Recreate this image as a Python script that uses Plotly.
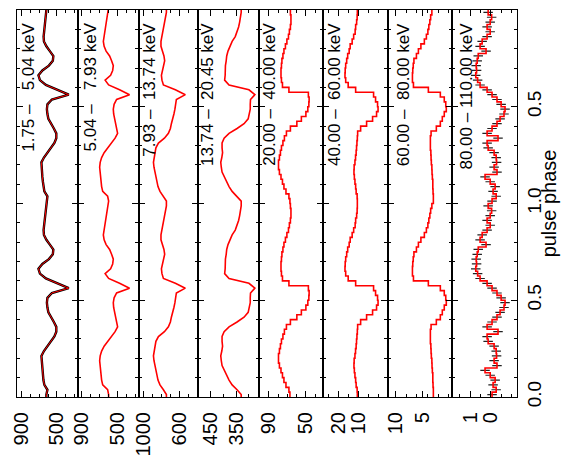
import plotly.graph_objects as go

# Energy bands of the pulse profiles (top panel first -> leftmost strip)
BANDS = [
    "1.75 –\u00a0\u00a0\u00a05.04 keV",
    "5.04 –\u00a0\u00a0\u00a07.93 keV",
    "7.93 –\u00a0\u00a013.74 keV",
    "13.74 –\u00a0\u00a020.45 keV",
    "20.00 –\u00a0\u00a040.00 keV",
    "40.00 –\u00a0\u00a060.00 keV",
    "60.00 –\u00a0\u00a080.00 keV",
    "80.00 – 110.00 keV",
]

# Count rate per phase bin (40 bins over one pulse cycle)
RATE_1 = [620, 608, 643, 654, 660, 666, 671, 677, 677, 648, 608, 568, 528, 506, 506, 534, 568, 597, 608, 614,
          608, 557, 363, 488, 626, 694, 711, 666, 591, 546, 540, 580, 620, 648, 652, 646, 640, 637, 631, 620]
RATE_2 = [600, 611, 666, 678, 683, 689, 694, 700, 694, 678, 650, 611, 567, 528, 500, 511, 528, 539, 544, 548,
          539, 511, 367, 478, 600, 639, 578, 555, 548, 567, 589, 628, 650, 659, 650, 641, 633, 622, 611, 605]
RATE_3 = [744, 777, 815, 837, 849, 865, 876, 881, 887, 876, 865, 860, 832, 766, 722, 700, 689, 672, 661, 650,
          645, 634, 535, 645, 777, 793, 799, 788, 771, 763, 771, 788, 804, 804, 793, 782, 771, 760, 749, 744]
RATE_4 = [330, 346, 365, 377, 386, 396, 404, 407, 409, 405, 402, 404, 404, 396, 377, 346, 319, 303, 298, 295,
          295, 294, 277, 300, 377, 394, 392, 392, 391, 388, 386, 381, 373, 365, 353, 346, 340, 336, 332, 330]
RATE_5 = [67.3, 68.4, 71.6, 73.8, 75.4, 77.0, 78.7, 79.7, 79.7, 78.7, 77.6, 76.5, 74.9, 73.3, 71.1, 66.8, 59.8, 54.9, 50.0, 47.9,
          46.8, 46.5, 47.3, 68.4, 75.4, 76.5, 77.0, 77.0, 76.5, 76.0, 74.9, 73.8, 72.2, 70.6, 68.9, 67.9, 66.8, 66.2, 66.2, 66.8]
RATE_6 = [10.4, 10.5, 11.0, 11.25, 11.6, 11.9, 12.1, 12.0, 11.6, 11.3, 11.0, 10.8, 10.6, 10.4, 10.25, 8.75, 5.75, 2.75, 0.75, 0.0,
          0.25, 1.25, 2.25, 11.25, 15.0, 16.25, 16.6, 16.5, 16.25, 15.75, 15.25, 14.5, 14.0, 13.0, 12.25, 11.5, 11.25, 10.75, 10.5, 10.4]
RATE_7 = [2.89, 2.89, 2.95, 2.99, 2.99, 3.08, 3.14, 3.17, 3.27, 3.32, 3.36, 3.45, 3.45, 3.45, 3.32, 2.33, 1.58, 1.21, 0.84, 0.46,
          0.56, 0.84, 1.58, 3.83, 6.63, 6.82, 6.82, 6.76, 6.67, 6.54, 6.07, 5.70, 5.23, 4.58, 4.20, 3.92, 3.74, 3.55, 3.40, 3.17]
RATE_8 = [-0.06, -0.26, -0.11, -0.21, 0.03, 0.28, -0.30, -0.16, -0.28, -0.26, -0.16, 0.13, 0.18, -0.35, 0.18, -0.06, -0.30, -0.45, -0.64, -0.69,
          -0.50, -0.30, -0.06, 0.18, 0.52, 0.64, 0.73, 0.69, 0.71, 0.66, 0.61, 0.23, 0.52, 0.42, 0.18, 0.03, 0.18, 0.03, -0.04, 0.13]
ERR_8 = 0.23  # 1-sigma uncertainty of the 80-110 keV rates

RATES = [RATE_1, RATE_2, RATE_3, RATE_4, RATE_5, RATE_6, RATE_7, RATE_8]

# Rate axis ranges (high rate on the left) and labelled ticks per strip
RATE_RANGES = [[957, 260], [944, 267], [1052, 392], [496, 261],
               [100.8, 31.7], [27.75, -4.75], [11.5, -0.66], [1.87, -1.27]]
RATE_TICKS = [[900, 500], [900, 500], [1000, 600], [450, 350],
              [90, 50], [20, 10], [10, 5], [1, 0]]
RATE_MINOR = [100, 100, 100, 50, 10, 5, 2, 0.5]
# the softer bands are finely binned and read as a continuous curve
SMOOTH = [True, True, True, True, False, False, False, False]

PHASE_TICKS = [0.0, 0.5, 1.0, 1.5, 2.0]
PHASE_LABELS = ["0.0", "0.5", "1.0", "0.5", "1.0"]

NBINS = len(RATE_1)
CYCLES = 2

W, H = 562, 466
ML, MR, MT, MB = 15, 45, 9, 64
PW = W - ML - MR
PH = H - MT - MB
STRIP_EDGES = [15, 76, 137, 197, 258, 322, 387, 452, 517]
LABEL_CENTERS = [26.5, 88.5, 148.5, 206.5, 268.5, 334, 402.5, 466]

FONT = "Liberation Sans, Arial, Helvetica, sans-serif"

# phase bin starts over two cycles, closed by the final edge
phase_start = [i / NBINS for i in range(NBINS * CYCLES)] + [float(CYCLES)]
phase_mid = [(i + 0.5) / NBINS for i in range(NBINS * CYCLES)]

fig = go.Figure()

for k, rate in enumerate(RATES):
    sfx = "" if k == 0 else str(k + 1)
    xa, ya = "x" + sfx, "y" + sfx
    vals = rate * CYCLES
    if SMOOTH[k]:
        # continuous curve through bin centres, padded to the plot edges
        px = [vals[0]] + vals + [vals[-1]]
        py = [0.0] + phase_mid + [float(CYCLES)]
        shape = "linear"
    else:
        px = vals + [vals[-1]]
        py = phase_start
        shape = "vh"
    if k == 0:
        fig.add_trace(go.Scatter(x=px, y=py, mode="lines", line_shape=shape,
                                 line=dict(color="black", width=2.4), xaxis=xa, yaxis=ya,
                                 showlegend=False, hoverinfo="skip"))
    if k == 7:
        fig.add_trace(go.Scatter(x=vals, y=phase_mid, mode="markers",
                                 marker=dict(size=1, color="rgba(0,0,0,0)"),
                                 error_x=dict(type="constant", value=ERR_8, color="#222222",
                                              thickness=1.2, width=0),
                                 xaxis=xa, yaxis=ya, showlegend=False, hoverinfo="skip"))
    fig.add_trace(go.Scatter(x=px, y=py, mode="lines", line_shape=shape,
                             line=dict(color="#ff0000", width=1.0 if k == 0 else 1.6),
                             xaxis=xa, yaxis=ya, showlegend=False))

    d0 = (STRIP_EDGES[k] - ML) / PW
    d1 = (STRIP_EDGES[k + 1] - ML) / PW
    fig.layout["xaxis" + sfx] = dict(
        domain=[d0, d1], range=RATE_RANGES[k], anchor=ya,
        tickmode="array", tickvals=RATE_TICKS[k], ticktext=[str(v) for v in RATE_TICKS[k]],
        ticks="inside", ticklen=6, tickwidth=1, tickcolor="black",
        minor=dict(dtick=RATE_MINOR[k], tick0=0, ticks="inside", ticklen=3, tickcolor="black"),
        tickangle=-90, tickfont=dict(family=FONT, size=20, color="black"),
        ticklabelstandoff=6,
        showline=True, linecolor="black", linewidth=1.2, mirror="ticks",
        showgrid=False, zeroline=False,
    )
    last = k == len(RATES) - 1
    fig.layout["yaxis" + sfx] = dict(
        domain=[0, 1], range=[0, CYCLES], anchor=xa,
        tickmode="array", tickvals=PHASE_TICKS, ticktext=PHASE_LABELS,
        ticks="inside", ticklen=6, tickwidth=1, tickcolor="black",
        minor=dict(dtick=0.1, tick0=0, ticks="inside", ticklen=3, tickcolor="black"),
        showticklabels=last, side="right" if last else "left",
        tickangle=-90, tickfont=dict(family=FONT, size=19, color="black"),
        showline=True, linecolor="black", linewidth=1.2, mirror="ticks",
        showgrid=False, zeroline=False,
    )

    fig.add_annotation(text=BANDS[k], xref="paper", yref="paper",
                       x=(LABEL_CENTERS[k] - ML) / PW, y=(H - MB - 20) / PH,
                       xanchor="center", yanchor="top", textangle=-90, showarrow=False,
                       font=dict(family=FONT, size=17, color="black"))

fig.add_annotation(text="pulse phase", xref="paper", yref="paper",
                   x=(549 - ML) / PW, y=0.5, xanchor="center", yanchor="middle",
                   textangle=-90, showarrow=False,
                   font=dict(family=FONT, size=20, color="black"))

fig.update_layout(width=W, height=H, margin=dict(l=ML, r=MR, t=MT, b=MB),
                  paper_bgcolor="white", plot_bgcolor="white")

fig.write_html("out.html")
